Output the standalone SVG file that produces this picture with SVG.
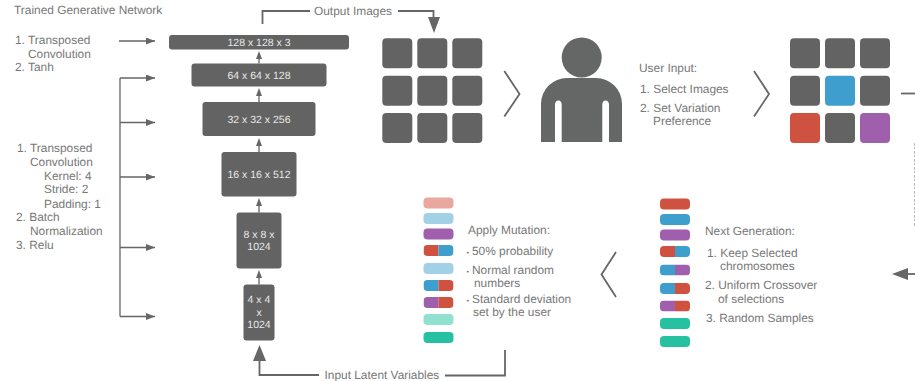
<svg xmlns="http://www.w3.org/2000/svg" width="915" height="381" viewBox="0 0 915 381">
<style>
text{font-family:"Liberation Sans",Arial,sans-serif;font-size:11.9px;fill:#777;text-rendering:geometricPrecision}
.l{fill:#e8e8e8;font-size:10.5px;text-anchor:middle}
.d{font-size:7px}
.b{fill:#636363}
.c{fill:none;stroke:#666;stroke-width:1.3}
.t{fill:none;stroke:#666;stroke-width:1.8}
.v{fill:none;stroke:#666;stroke-width:1.8}
.h{fill:#666}
</style>
<defs>
<marker id="a" markerWidth="10" markerHeight="7" refX="9" refY="3.500" orient="auto" markerUnits="userSpaceOnUse"><path d="M0 0L9 3.500L0 7z" fill="#666"/></marker>
<rect id="s" width="30" height="30" rx="4"/>
<rect id="p" width="30" height="11" rx="4"/>
<clipPath id="lh"><rect x="0" y="0" width="15" height="11"/></clipPath>
<clipPath id="rh"><rect x="15" y="0" width="15" height="11"/></clipPath>
</defs>
<g id="connectors">
<path class="c" marker-end="url(#a)" d="M119 41H155"/>
<path class="c" d="M120 78V316.500"/>
<path class="c" marker-end="url(#a)" d="M120 78H155"/>
<path class="c" marker-end="url(#a)" d="M120 122.500H155"/>
<path class="c" marker-end="url(#a)" d="M120 177H155"/>
<path class="c" marker-end="url(#a)" d="M120 247.500H155"/>
<path class="c" marker-end="url(#a)" d="M120 316.500H155"/>
<path class="c" d="M259 63.500V56M259 102V94M259 152V144M259 212.500V204M259 284.500V276"/>
<path class="h" d="M259 51L262 59H256zM259 88L262 96H256zM259 138L262 146H256zM259 198L262 206H256zM259 270L262 278H256z"/>
<path class="t" d="M262.500 24V11H310"/>
<path class="t" d="M398 11H433.500V20"/>
<path class="h" d="M428 17H440L434 33z"/>
<path class="t" d="M259.500 355V375H319"/>
<path class="h" d="M253 361L259.500 345L266 361z"/>
<path class="t" d="M445 375.500H505V350"/>
<path class="t" d="M901 93.500H915"/>
<path class="t" d="M905 274H915"/>
<path class="h" d="M892 274L908 268V280z"/>
<path class="v" d="M504.300 71L519.500 94L504.300 116.500"/>
<path class="v" d="M754 71L769 94L754 116.500"/>
<path class="v" d="M616 252L601.500 274.500L616 297"/>
<path d="M914.500 143V227" fill="none" stroke="#bbb" stroke-width="1" stroke-dasharray="3 1 2 2"/>
</g>
<g id="title"><text x="14" y="14">Trained Generative Network</text></g>
<g id="notes-top">
<text x="15" y="44">1. Transposed</text><text x="28" y="58">Convolution</text><text x="15" y="71">2. Tanh</text>
</g>
<g id="notes-mid">
<text x="17" y="152">1. Transposed</text><text x="30" y="166">Convolution</text><text x="44" y="180">Kernel: 4</text><text x="44" y="193">Stride: 2</text><text x="44" y="208">Padding: 1</text><text x="16" y="221">2. Batch</text><text x="30" y="235">Normalization</text><text x="16" y="249">3. Relu</text>
</g>
<g id="n128"><rect class="b" x="169" y="35" width="180" height="14.500" rx="3"/><text class="l" x="259" y="46">128 x 128 x 3</text></g>
<g id="n64"><rect class="b" x="191.500" y="63.500" width="135" height="23" rx="3"/><text class="l" x="259" y="79">64 x 64 x 128</text></g>
<g id="n32"><rect class="b" x="202.500" y="102" width="113" height="34" rx="3"/><text class="l" x="259" y="123">32 x 32 x 256</text></g>
<g id="n16"><rect class="b" x="221.500" y="152" width="75" height="44.500" rx="3"/><text class="l" x="259" y="178">16 x 16 x 512</text></g>
<g id="n8"><rect class="b" x="236.500" y="212.500" width="45" height="56" rx="3"/><text class="l" x="259" y="238">8 x 8 x</text><text class="l" x="259" y="250">1024</text></g>
<g id="n4"><rect class="b" x="243.500" y="284.500" width="31" height="56" rx="3"/><text class="l" x="259" y="303">4 x 4</text><text class="l" x="259" y="316">x</text><text class="l" x="259" y="328">1024</text></g>
<g id="label-output"><text x="314" y="15">Output Images</text></g>
<g id="label-input"><text x="324.500" y="378.500">Input Latent Variables</text></g>
<g id="grid-output" class="b">
<use href="#s" x="382.300" y="38.300"/><use href="#s" x="417.300" y="38.300"/><use href="#s" x="452.300" y="38.300"/>
<use href="#s" x="382.300" y="75.700"/><use href="#s" x="417.300" y="75.700"/><use href="#s" x="452.300" y="75.700"/>
<use href="#s" x="382.300" y="113"/><use href="#s" x="417.300" y="113"/><use href="#s" x="452.300" y="113"/>
</g>
<g id="user">
<circle cx="581.700" cy="57.500" r="20" fill="#656767"/>
<path fill="#656767" d="M541 142V104A26 26 0 0 1 567 78H596A26 26 0 0 1 622 104V142H609V105A3.300 4.500 0 0 0 602.300 105V142H561.700V105A3.300 4.500 0 0 0 555 105V142z"/>
</g>
<g id="user-text">
<text x="639" y="72">User Input:</text><text x="640" y="93">1. Select Images</text><text x="640" y="112">2. Set Variation</text><text x="653" y="125">Preference</text>
</g>
<g id="grid-selected" class="b">
<use href="#s" x="790" y="38.300"/><use href="#s" x="825" y="38.300"/><use href="#s" x="860" y="38.300"/>
<use href="#s" x="790" y="75.700"/><use href="#s" x="825" y="75.700" fill="#3e9fcf"/><use href="#s" x="860" y="75.700"/>
<use href="#s" x="790" y="113" fill="#cf5240"/><use href="#s" x="825" y="113"/><use href="#s" x="860" y="113" fill="#a05fad"/>
</g>
<g id="next-chromosomes">
<use href="#p" x="660" y="198.500" fill="#cf5240"/>
<use href="#p" x="660" y="214" fill="#3e9fcf"/>
<use href="#p" x="660" y="229.500" fill="#a05fad"/>
<g transform="translate(660 246)"><use href="#p" fill="#cf5240" clip-path="url(#lh)"/><use href="#p" fill="#3e9fcf" clip-path="url(#rh)"/></g>
<g transform="translate(660 264.500)"><use href="#p" fill="#3e9fcf" clip-path="url(#lh)"/><use href="#p" fill="#a05fad" clip-path="url(#rh)"/></g>
<g transform="translate(660 283)"><use href="#p" fill="#3e9fcf" clip-path="url(#lh)"/><use href="#p" fill="#cf5240" clip-path="url(#rh)"/></g>
<g transform="translate(660 300.500)"><use href="#p" fill="#a05fad" clip-path="url(#lh)"/><use href="#p" fill="#cf5240" clip-path="url(#rh)"/></g>
<use href="#p" x="660" y="318" fill="#25c1a0"/>
<use href="#p" x="660" y="336" fill="#25c1a0"/>
</g>
<g id="next-text">
<text x="705" y="235">Next Generation:</text><text x="707" y="257">1. Keep Selected</text><text x="720" y="270">chromosomes</text><text x="705" y="289">2. Uniform Crossover</text><text x="718" y="303">of selections</text><text x="706" y="322">3. Random Samples</text>
</g>
<g id="mutation-chromosomes">
<use href="#p" x="423.500" y="197.500" fill="#e9a89f"/>
<use href="#p" x="423.500" y="213" fill="#a2d0e7"/>
<use href="#p" x="423.500" y="228.500" fill="#a05fad"/>
<g transform="translate(423.500 245)"><use href="#p" fill="#cf5240" clip-path="url(#lh)"/><use href="#p" fill="#3e9fcf" clip-path="url(#rh)"/></g>
<use href="#p" x="423.500" y="263" fill="#a2d0e7"/>
<g transform="translate(423.500 280)"><use href="#p" fill="#3e9fcf" clip-path="url(#lh)"/><use href="#p" fill="#cf5240" clip-path="url(#rh)"/></g>
<g transform="translate(423.500 297)"><use href="#p" fill="#a05fad" clip-path="url(#lh)"/><use href="#p" fill="#cf5240" clip-path="url(#rh)"/></g>
<use href="#p" x="423.500" y="314" fill="#92e0cf"/>
<use href="#p" x="423.500" y="332" fill="#25c1a0"/>
</g>
<g id="mutation-text">
<text x="468" y="234">Apply Mutation:</text>
<text class="d" x="466.500" y="254.500">•</text><text x="472" y="255">50% probability</text>
<text class="d" x="466.500" y="273.500">•</text><text x="472" y="274">Normal random</text><text x="474" y="287">numbers</text>
<text class="d" x="466.500" y="302.500">•</text><text x="472" y="303">Standard deviation</text><text x="473" y="316">set by the user</text>
</g>
</svg>
